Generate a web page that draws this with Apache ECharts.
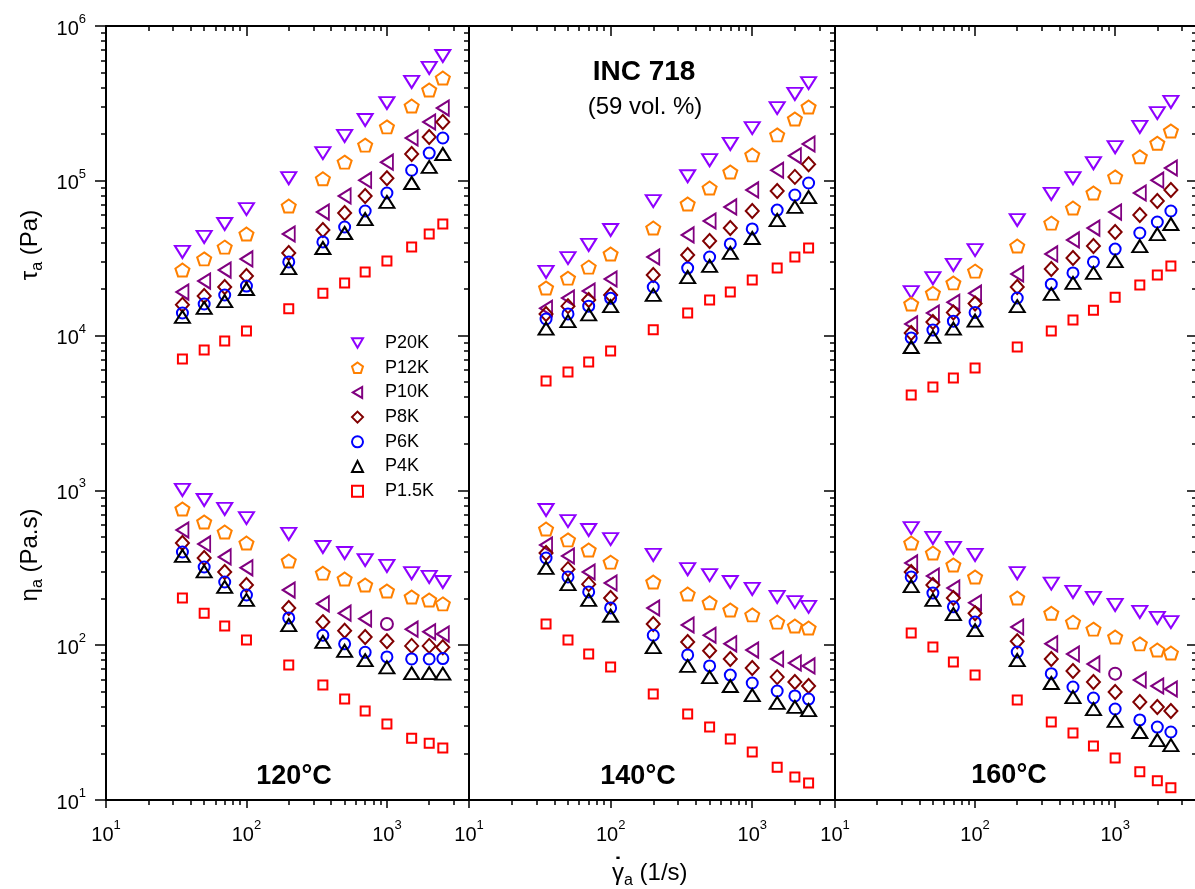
<!DOCTYPE html>
<html>
<head>
<meta charset="utf-8">
<script src="https://cdn.jsdelivr.net/npm/echarts@6/dist/echarts.min.js"></script>
<style>
  html, body { margin: 0; padding: 0; background: #fff; }
  #chart { width: 1195px; height: 889px; }
</style>
</head>
<body>
<div id="chart"></div>
<script>
// Apparent shear rate (1/s), shared by every sample and temperature
const shearRate = [35, 50, 70, 100, 200, 350, 500, 700, 1000, 1500, 2000, 2500];

const samples = ['P20K', 'P12K', 'P10K', 'P8K', 'P6K', 'P4K', 'P1.5K'];
const panelTemps = ['120°C', '140°C', '160°C'];

// Apparent shear stress (Pa), one row per sample in the order above
const stress120 = [
  [34700, 43400, 52600, 65700, 104000, 151000, 195000, 247000, 318000, 435000, 536000, 640000],
  [26500, 31300, 37300, 45300, 68700, 103000, 132000, 170000, 223000, 304000, 386000, 461000],
  [19100, 22500, 26500, 31300, 45300, 62800, 79800, 101000, 132000, 189000, 240000, 295000],
  [15800, 18000, 20600, 24300, 34200, 48100, 61900, 79800, 104000, 149000, 192000, 240000],
  [14000, 16000, 18300, 20900, 29900, 40300, 50300, 63800, 83400, 117000, 151000, 189000],
  [13200, 15100, 16700, 20000, 27300, 36800, 46000, 56600, 73000, 96800, 123000, 149000],
  [7060, 8070, 9230, 10700, 14900, 18800, 21900, 25800, 30300, 37300, 45300, 52600]
];
const stress140 = [
  [25800, 31700, 38500, 48100, 74000, 107000, 136000, 173000, 219000, 295000, 364000, 428000],
  [20300, 23500, 27700, 33700, 49500, 70800, 89800, 114000, 147000, 198000, 251000, 300000],
  [15000, 17500, 19400, 23200, 32200, 44700, 55000, 67800, 87300, 117000, 145000, 173000],
  [13800, 15500, 17000, 18300, 24600, 33200, 40800, 49500, 63800, 85900, 106000, 128000],
  [12800, 13800, 15500, 17400, 20600, 27300, 32200, 39100, 48900, 64700, 80900, 96800],
  [11100, 12400, 13700, 15500, 18300, 23900, 28200, 34200, 42700, 55800, 67800, 78500],
  [5090, 5820, 6750, 7940, 10900, 14000, 17000, 19100, 22900, 27300, 32200, 36800]
];
const stress160 = [
  [19100, 23500, 28600, 35700, 55800, 82200, 104000, 130000, 165000, 223000, 274000, 323000],
  [16000, 18800, 21900, 26100, 37900, 53300, 66700, 83400, 106000, 143000, 175000, 210000],
  [11900, 14000, 16400, 18800, 25000, 33700, 41500, 49500, 62800, 83400, 101000, 121000],
  [10400, 12250, 14100, 16100, 20600, 26900, 31700, 37900, 46700, 60100, 74000, 87300],
  [9660, 10850, 12400, 14100, 17500, 21500, 25400, 29900, 36200, 46000, 54200, 63800],
  [8440, 9800, 11100, 12500, 15500, 18600, 21900, 25400, 30300, 37900, 45300, 52600],
  [4130, 4660, 5320, 6180, 8430, 10700, 12600, 14600, 17700, 21200, 24600, 28200]
];

// Apparent viscosity (Pa.s), same layout
const visc120 = [
  [1007, 867, 759, 663, 523, 431, 394, 355, 325, 292, 276, 256],
  [759, 625, 538, 457, 350, 292, 268, 245, 224, 205, 196, 185],
  [555, 451, 372, 316, 227, 185, 161, 148, 137, 127, 122, 118],
  [457, 366, 297, 245, 174, 141, 124, 113, 106, 99, 99, 97],
  [400, 320, 256, 211, 150, 116, 102, 90, 84, 81.5, 81.5, 82],
  [378, 300, 238, 196, 135, 105, 92, 80, 72, 66, 66, 65.5],
  [202, 161, 133, 108, 74.5, 55.3, 44.9, 37.6, 31.0, 25.1, 23.3, 21.7]
];
const visc140 = [
  [747, 634, 555, 485, 383, 310, 284, 256, 231, 205, 190, 177],
  [563, 479, 412, 344, 256, 214, 188, 169, 157, 141, 133, 129],
  [444, 377, 297, 252, 174, 135, 116, 102, 93, 81.5, 76.7, 73.5],
  [394, 310, 248, 202, 137, 105, 92, 81.5, 71.3, 62.2, 57.8, 54.5],
  [366, 276, 221, 174, 116, 86.5, 73.5, 64.1, 57.0, 50.6, 47.0, 44.9],
  [316, 248, 196, 155, 97.3, 73.5, 62.2, 54.5, 47.6, 42.4, 39.9, 38.1],
  [137, 108, 87.7, 72.3, 48.4, 36.0, 29.6, 24.8, 20.4, 16.3, 14.1, 12.9]
];
const visc160 = [
  [571, 493, 425, 383, 292, 250, 221, 202, 182, 164, 150, 141],
  [457, 394, 330, 276, 202, 161, 141, 127, 113, 102, 93, 89],
  [340, 280, 234, 188, 131, 102, 87.7, 75.7, 65.5, 59.6, 54.5, 52.1],
  [297, 245, 202, 161, 106, 81.5, 68.1, 57.8, 49.9, 43.0, 39.9, 37.6],
  [276, 217, 177, 141, 90.4, 65.5, 53.7, 45.6, 38.7, 32.9, 29.6, 27.5],
  [241, 196, 159, 125, 80.2, 57.0, 46.2, 38.7, 32.4, 27.5, 24.4, 22.6],
  [120, 97.3, 77.8, 64.1, 44.3, 31.9, 27.1, 22.3, 18.7, 15.2, 13.3, 12.0]
];

// Viscosity points plotted with a circle instead of the sample's own marker
const circleMarkedPoints = [
  { panel: 0, sample: 2, index: 8 },
  { panel: 2, sample: 2, index: 8 }
];

// Tick positions
const xMajorTicks = [10, 100, 1000];
const yMajorTicks = [10, 100, 1000, 10000, 100000, 1000000];
const xMin = 10, xMax = 3840;
const yMin = 10, yMax = 1000000;

const stressByPanel = [stress120, stress140, stress160];
const viscByPanel = [visc120, visc140, visc160];

// ---- styling ----
const FONT = 'Liberation Sans, Arial, Helvetica, sans-serif';
const sampleColors = ['#8f00ff', '#ff8000', '#800080', '#800000', '#0000ff', '#000000', '#ff0000'];
const PENTAGON = 'path://M0,-1L0.951,-0.309L0.588,0.809L-0.588,0.809L-0.951,-0.309Z';
const TRI_DOWN = 'path://M0,0L2,0L1,1.7Z';
const TRI_LEFT = 'path://M0,1L1.7,0L1.7,2Z';
const sampleSymbols = [
  { symbol: TRI_DOWN, size: [15, 12] },
  { symbol: PENTAGON, size: [14, 13] },
  { symbol: TRI_LEFT, size: [12, 15] },
  { symbol: 'diamond', size: [13, 14] },
  { symbol: 'circle', size: 11 },
  { symbol: 'triangle', size: [15, 12] },
  { symbol: 'rect', size: 9 }
];
const gridLeft = [106, 469, 835];
const gridWidth = [363, 366, 362];
const plotTop = 26, plotHeight = 774;

function minorTicks(fromExp, toExp, limit) {
  const out = [];
  for (let e = fromExp; e < toExp; e++) {
    for (let k = 2; k <= 9; k++) {
      const v = k * Math.pow(10, e);
      if (v <= limit) out.push(v);
    }
  }
  return out;
}
const xMinorTicks = minorTicks(1, 4, xMax);
const yMinorTicks = minorTicks(1, 6, yMax);

const powLabel = v => '{b|10}{s|' + Math.round(Math.log10(v)) + '}';
const powRich = {
  b: { fontFamily: FONT, fontSize: 20, lineHeight: 26, verticalAlign: 'bottom', color: '#000' },
  s: { fontFamily: FONT, fontSize: 13, lineHeight: 13, verticalAlign: 'top', color: '#000' }
};
const lineStyle = { color: '#000', width: 2 };
const tickStyle = { color: '#000', width: 1.5 };

const grids = [], xAxes = [], yAxes = [], series = [];

for (let p = 0; p < 3; p++) {
  grids.push({ left: gridLeft[p], top: plotTop, width: gridWidth[p], height: plotHeight,
               outerBoundsMode: 'none', containLabel: false });

  const xBase = { type: 'log', logBase: 10, gridIndex: p, min: xMin, max: xMax, silent: true,
                  splitLine: { show: false }, minorTick: { show: false }, minorSplitLine: { show: false } };
  xAxes.push(
    Object.assign({}, xBase, { position: 'bottom',
      axisLine: { show: true, onZero: false, lineStyle },
      axisTick: { show: true, inside: false, length: 8, lineStyle: tickStyle, customValues: xMajorTicks },
      axisLabel: { show: true, customValues: xMajorTicks, margin: 19, formatter: powLabel, rich: powRich } }),
    Object.assign({}, xBase, { position: 'bottom',
      axisLine: { show: false, onZero: false },
      axisTick: { show: true, inside: false, length: 5, lineStyle: tickStyle, customValues: xMinorTicks },
      axisLabel: { show: false } }),
    Object.assign({}, xBase, { position: 'top',
      axisLine: { show: true, onZero: false, lineStyle },
      axisTick: { show: true, inside: true, length: 10, lineStyle: tickStyle, customValues: xMajorTicks },
      axisLabel: { show: false } }),
    Object.assign({}, xBase, { position: 'top',
      axisLine: { show: false, onZero: false },
      axisTick: { show: true, inside: true, length: 5, lineStyle: tickStyle, customValues: xMinorTicks },
      axisLabel: { show: false } })
  );

  const yBase = { type: 'log', logBase: 10, gridIndex: p, min: yMin, max: yMax, silent: true,
                  splitLine: { show: false }, minorTick: { show: false }, minorSplitLine: { show: false } };
  yAxes.push(
    Object.assign({}, yBase, { position: 'left',
      axisLine: { show: true, onZero: false, lineStyle },
      axisTick: { show: true, inside: false, length: 11, lineStyle: tickStyle, customValues: yMajorTicks },
      axisLabel: { show: p === 0, customValues: yMajorTicks, margin: 20, formatter: powLabel, rich: powRich } }),
    Object.assign({}, yBase, { position: 'left',
      axisLine: { show: false, onZero: false },
      axisTick: { show: true, inside: false, length: 5, lineStyle: tickStyle, customValues: yMinorTicks },
      axisLabel: { show: false } }),
    Object.assign({}, yBase, { position: 'right',
      axisLine: { show: true, onZero: false, lineStyle },
      axisTick: { show: true, inside: true, length: 10, lineStyle: tickStyle, customValues: yMajorTicks },
      axisLabel: { show: false } }),
    Object.assign({}, yBase, { position: 'right',
      axisLine: { show: false, onZero: false },
      axisTick: { show: true, inside: true, length: 5, lineStyle: tickStyle, customValues: yMinorTicks },
      axisLabel: { show: false } })
  );

  samples.forEach((name, s) => {
    const sym = sampleSymbols[s];
    const stressPts = shearRate.map((x, k) => [x, stressByPanel[p][s][k]]);
    const viscPts = shearRate.map((x, k) => {
      const circled = circleMarkedPoints.some(c => c.panel === p && c.sample === s && c.index === k);
      const pt = [x, viscByPanel[p][s][k]];
      return circled ? { value: pt, symbol: 'circle', symbolSize: 12 } : pt;
    });
    series.push({
      type: 'scatter',
      name,
      xAxisIndex: p * 4,
      yAxisIndex: p * 4,
      data: stressPts.concat(viscPts),
      symbol: sym.symbol,
      symbolSize: sym.size,
      itemStyle: { color: 'rgba(255,255,255,0)', borderColor: sampleColors[s], borderWidth: 2, opacity: 1 },
      emphasis: { disabled: true },
      silent: true
    });
  });
}

const panelLabelPos = [[294, 777], [638, 777], [1009, 776]];

const titleRich = {
  m: { fontFamily: FONT, fontSize: 24, lineHeight: 32, color: '#000' },
  sub: { fontFamily: FONT, fontSize: 16, lineHeight: 16, verticalAlign: 'bottom', color: '#000' }
};
function textEl(x, y, text, extra) {
  return {
    type: 'text', x, y, silent: true,
    style: Object.assign({ text, align: 'center', verticalAlign: 'middle',
                           textAlign: 'center', textVerticalAlign: 'middle', fill: '#000' }, extra)
  };
}

const graphic = [
  Object.assign(textEl(30, 245, '{m|τ}{sub|a}{m| (Pa)}', { rich: titleRich }), { rotation: Math.PI / 2 }),
  Object.assign(textEl(30, 555, '{m|η}{sub|a}{m| (Pa.s)}', { rich: titleRich }), { rotation: Math.PI / 2 }),
  textEl(612, 873, '{m|γ}{sub|a}{m| (1/s)}', { rich: titleRich, align: 'left', textAlign: 'left' }),
  // overdot of the shear-rate symbol
  textEl(618, 867, '\u02D9', { font: 'bold 24px ' + FONT }),
  textEl(644, 72, 'INC 718', { font: 'bold 28px ' + FONT }),
  textEl(645, 107, '(59 vol. %)', { font: '24px ' + FONT })
].concat(panelTemps.map((t, i) =>
  textEl(panelLabelPos[i][0], panelLabelPos[i][1], t, { font: 'bold 27px ' + FONT })
));

const chart = echarts.init(document.getElementById('chart'), null, { renderer: 'canvas' });
chart.setOption({
  animation: false,
  backgroundColor: '#fff',
  textStyle: { fontFamily: FONT },
  grid: grids,
  xAxis: xAxes,
  yAxis: yAxes,
  legend: {
    data: samples,
    orient: 'vertical',
    left: 351,
    top: 334,
    padding: 0,
    itemWidth: 11,
    itemHeight: 11,
    itemGap: 6.7,
    selectedMode: false,
    itemStyle: { borderWidth: 2 },
    textStyle: { fontFamily: FONT, fontSize: 18, lineHeight: 18, color: '#000', padding: [0, 0, 0, 17] }
  },
  graphic,
  series
});
</script>
</body>
</html>
